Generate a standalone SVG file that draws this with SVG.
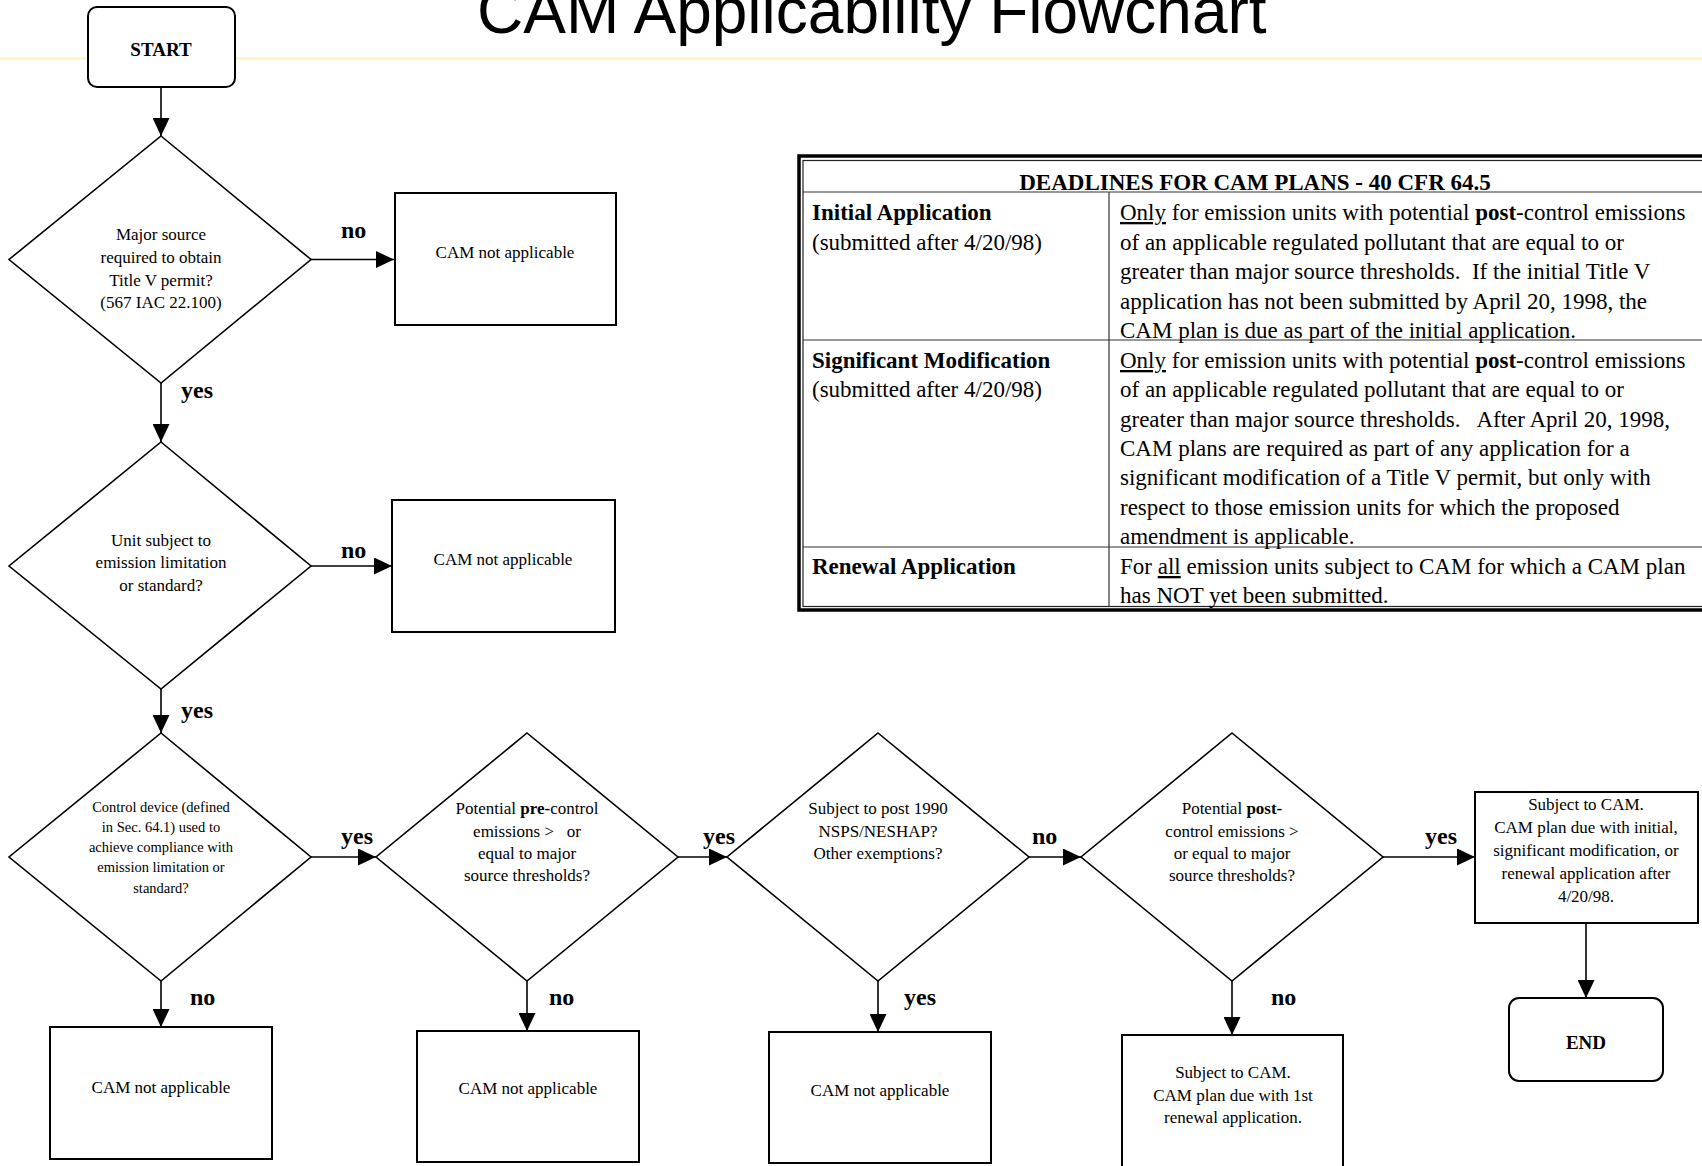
<svg xmlns="http://www.w3.org/2000/svg" width="1702" height="1166" viewBox="0 0 1702 1166">
<style>
.shape{fill:#fff;stroke:#000;stroke-width:2}
.dia{fill:#fff;stroke:#000;stroke-width:1.6}
.t{font-family:"Liberation Serif","Times New Roman",serif;font-size:17px;fill:#000;text-anchor:middle}
.ts{font-family:"Liberation Serif","Times New Roman",serif;font-size:14.5px;fill:#000;text-anchor:middle}
.tb{font-family:"Liberation Serif","Times New Roman",serif;font-size:19px;font-weight:bold;fill:#000;text-anchor:middle}
.lbl{font-family:"Liberation Serif","Times New Roman",serif;font-size:24px;font-weight:bold;fill:#000}
.tab{font-family:"Liberation Serif","Times New Roman",serif;font-size:23px;fill:#000}
.b{font-weight:bold}
.u{text-decoration:underline}
.conn line{stroke:#000;stroke-width:1.6;marker-end:url(#arr)}
.grid{stroke:#333;stroke-width:1.2}
</style>
<defs>
<marker id="arr" markerUnits="userSpaceOnUse" markerWidth="18" markerHeight="17" refX="18" refY="8.5" orient="auto">
<path d="M0,0 L18,8.5 L0,17 z" fill="#000"/>
</marker>
</defs>
<rect width="1702" height="1166" fill="#fff"/>
<line x1="0" y1="58.5" x2="1702" y2="58.5" stroke="#fdefc4" stroke-width="2"/>
<text x="477" y="33" font-family="'Liberation Sans',Arial,sans-serif" font-size="64" fill="#000">CAM Applicability Flowchart</text>

<g id="table">
<rect x="799" y="156" width="960" height="454" fill="none" stroke="#000" stroke-width="3.5"/>
<rect x="803" y="160.5" width="960" height="446" fill="none" stroke="#222" stroke-width="1.2"/>
<line class="grid" x1="803" y1="192" x2="1702" y2="192"/>
<line class="grid" x1="803" y1="340" x2="1702" y2="340"/>
<line class="grid" x1="803" y1="547" x2="1702" y2="547"/>
<line class="grid" x1="1109" y1="192" x2="1109" y2="606"/>
<text class="tab b" x="1255" y="190" text-anchor="middle">DEADLINES FOR CAM PLANS - 40 CFR 64.5</text>
<text class="tab b" x="812" y="220">Initial Application</text>
<text class="tab" x="812" y="249.5">(submitted after 4/20/98)</text>
<text class="tab" x="1120" y="220"><tspan class="u">Only</tspan> for emission units with potential <tspan class="b">post</tspan>-control emissions</text>
<text class="tab" x="1120" y="249.5">of an applicable regulated pollutant that are equal to or</text>
<text class="tab" x="1120" y="279" xml:space="preserve">greater than major source thresholds.  If the initial Title V</text>
<text class="tab" x="1120" y="308.5">application has not been submitted by April 20, 1998, the</text>
<text class="tab" x="1120" y="338">CAM plan is due as part of the initial application.</text>
<text class="tab b" x="812" y="368">Significant Modification</text>
<text class="tab" x="812" y="397.3">(submitted after 4/20/98)</text>
<text class="tab" x="1120" y="368"><tspan class="u">Only</tspan> for emission units with potential <tspan class="b">post</tspan>-control emissions</text>
<text class="tab" x="1120" y="397.3">of an applicable regulated pollutant that are equal to or</text>
<text class="tab" x="1120" y="426.6" xml:space="preserve">greater than major source thresholds.   After April 20, 1998,</text>
<text class="tab" x="1120" y="456">CAM plans are required as part of any application for a</text>
<text class="tab" x="1120" y="485.3">significant modification of a Title V permit, but only with</text>
<text class="tab" x="1120" y="514.6">respect to those emission units for which the proposed</text>
<text class="tab" x="1120" y="544">amendment is applicable.</text>
<text class="tab b" x="812" y="574">Renewal Application</text>
<text class="tab" x="1120" y="574">For <tspan class="u">all</tspan> emission units subject to CAM for which a CAM plan</text>
<text class="tab" x="1120" y="603">has NOT yet been submitted.</text>
</g>

<g class="conn" id="connectors">
<line x1="161" y1="87" x2="161" y2="136"/>
<line x1="311" y1="259.5" x2="394" y2="259.5"/>
<line x1="161" y1="383" x2="161" y2="442"/>
<line x1="311" y1="566" x2="392" y2="566"/>
<line x1="161" y1="689" x2="161" y2="733"/>
<line x1="311" y1="857" x2="376" y2="857"/>
<line x1="161" y1="981" x2="161" y2="1027"/>
<line x1="678" y1="857" x2="727" y2="857"/>
<line x1="527" y1="981" x2="527" y2="1031"/>
<line x1="1029" y1="857" x2="1081" y2="857"/>
<line x1="878" y1="981" x2="878" y2="1032"/>
<line x1="1383" y1="857" x2="1475" y2="857"/>
<line x1="1232" y1="981" x2="1232" y2="1035"/>
<line x1="1586" y1="923" x2="1586" y2="998"/>
<text class="lbl" x="341" y="238">no</text>
<text class="lbl" x="181" y="398">yes</text>
<text class="lbl" x="341" y="558">no</text>
<text class="lbl" x="181" y="718">yes</text>
<text class="lbl" x="341" y="844">yes</text>
<text class="lbl" x="190" y="1005">no</text>
<text class="lbl" x="703" y="844">yes</text>
<text class="lbl" x="549" y="1005">no</text>
<text class="lbl" x="1032" y="844">no</text>
<text class="lbl" x="904" y="1005">yes</text>
<text class="lbl" x="1425" y="844">yes</text>
<text class="lbl" x="1271" y="1005">no</text>
</g>

<g id="start">
<rect class="shape" x="88" y="7" width="147" height="80" rx="9"/>
<text class="tb" x="161" y="56">START</text>
</g>
<g id="d1">
<polygon class="dia" points="161,136 311,259.5 161,383 9,259.5"/>
<text class="t" x="161" y="240">Major source</text>
<text class="t" x="161" y="263">required to obtain</text>
<text class="t" x="161" y="286">Title V permit?</text>
<text class="t" x="161" y="308">(567 IAC 22.100)</text>
</g>
<g id="box1">
<rect class="shape" x="395" y="193" width="221" height="132"/>
<text class="t" x="505" y="258">CAM not applicable</text>
</g>
<g id="d2">
<polygon class="dia" points="161,442 311,566 161,689 9,566"/>
<text class="t" x="161" y="546">Unit subject to</text>
<text class="t" x="161" y="568">emission limitation</text>
<text class="t" x="161" y="591">or standard?</text>
</g>
<g id="box2">
<rect class="shape" x="392" y="500" width="223" height="132"/>
<text class="t" x="503" y="565">CAM not applicable</text>
</g>
<g id="d3">
<polygon class="dia" points="161,733 311,857 161,981 9,857"/>
<text class="ts" x="161" y="812">Control device (defined</text>
<text class="ts" x="161" y="832">in Sec. 64.1) used to</text>
<text class="ts" x="161" y="852">achieve compliance with</text>
<text class="ts" x="161" y="872">emission limitation or</text>
<text class="ts" x="161" y="893">standard?</text>
</g>
<g id="box3">
<rect class="shape" x="50" y="1027" width="222" height="132"/>
<text class="t" x="161" y="1093">CAM not applicable</text>
</g>
<g id="d4">
<polygon class="dia" points="527,733 678,857 527,981 376,857"/>
<text class="t" x="527" y="814">Potential <tspan font-weight="bold">pre-</tspan>control</text>
<text class="t" x="527" y="837" xml:space="preserve">emissions &gt;   or</text>
<text class="t" x="527" y="859">equal to major</text>
<text class="t" x="527" y="881">source thresholds?</text>
</g>
<g id="box4">
<rect class="shape" x="417" y="1031" width="222" height="131"/>
<text class="t" x="528" y="1094">CAM not applicable</text>
</g>
<g id="d5">
<polygon class="dia" points="878,733 1029,857 878,981 727,857"/>
<text class="t" x="878" y="814">Subject to post 1990</text>
<text class="t" x="878" y="837">NSPS/NESHAP?</text>
<text class="t" x="878" y="859">Other exemptions?</text>
</g>
<g id="box5">
<rect class="shape" x="769" y="1032" width="222" height="131"/>
<text class="t" x="880" y="1096">CAM not applicable</text>
</g>
<g id="d6">
<polygon class="dia" points="1232,733 1383,857 1232,981 1081,857"/>
<text class="t" x="1232" y="814">Potential <tspan font-weight="bold">post-</tspan></text>
<text class="t" x="1232" y="837">control emissions &gt;</text>
<text class="t" x="1232" y="859">or equal to major</text>
<text class="t" x="1232" y="881">source thresholds?</text>
</g>
<g id="box6">
<rect class="shape" x="1122" y="1035" width="221" height="150"/>
<text class="t" x="1233" y="1078">Subject to CAM.</text>
<text class="t" x="1233" y="1101">CAM plan due with 1st</text>
<text class="t" x="1233" y="1123">renewal application.</text>
</g>
<g id="subject">
<rect class="shape" x="1475" y="792" width="223" height="131"/>
<text class="t" x="1586" y="810">Subject to CAM.</text>
<text class="t" x="1586" y="833">CAM plan due with initial,</text>
<text class="t" x="1586" y="856">significant modification, or</text>
<text class="t" x="1586" y="879">renewal application after</text>
<text class="t" x="1586" y="902">4/20/98.</text>
</g>
<g id="end">
<rect class="shape" x="1509" y="998" width="154" height="83" rx="10"/>
<text class="tb" x="1586" y="1049">END</text>
</g>
</svg>
